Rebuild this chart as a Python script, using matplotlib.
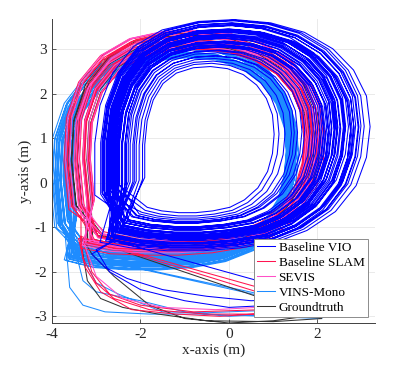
import numpy as np
import matplotlib.pyplot as plt

plt.rcParams['font.family'] = ['Liberation Serif', 'DejaVu Serif']
plt.rcParams['font.size'] = 11
plt.rcParams['axes.unicode_minus'] = False

series_names = ['Baseline VIO', 'Baseline SLAM', 'SEVIS', 'VINS-Mono', 'Groundtruth']
series_colors = ['#0000ff', '#ff1450', '#ff50c8', '#1e8cff', '#333333']

# base loops (m)
ref_loop_x = [-3.1, -2.5, -1.8, -1.1, -0.4, 0.3, 0.85, 1.35, 1.7, 1.87, 1.92, 1.85,
              1.62, 1.22, 0.65, 0.0, -0.7, -1.4, -2.1, -2.7, -3.15, -3.4, -3.45, -3.35]
ref_loop_y = [-1.3, -1.42, -1.45, -1.45, -1.4, -1.28, -1.05, -0.65, -0.15, 0.4, 1.0, 1.6,
              2.15, 2.6, 2.95, 3.15, 3.22, 3.2, 3.05, 2.7, 2.15, 1.4, 0.5, -0.5]
vio_loop_x = [-2.6, -2.0, -1.3, -0.6, 0.1, 0.8, 1.4, 1.95, 2.35, 2.55, 2.62, 2.55,
              2.3, 1.9, 1.35, 0.7, 0.0, -0.7, -1.4, -1.95, -2.35, -2.6, -2.7, -2.7]
vio_loop_y = [-1.3, -1.42, -1.48, -1.48, -1.42, -1.3, -1.05, -0.65, -0.1, 0.5, 1.15, 1.8,
              2.35, 2.8, 3.15, 3.35, 3.42, 3.38, 3.2, 2.85, 2.3, 1.6, 0.8, -0.3]
vins_loop_x = [-3.5, -2.9, -2.2, -1.5, -0.8, -0.1, 0.5, 0.95, 1.25, 1.4, 1.45, 1.4,
               1.2, 0.85, 0.35, -0.3, -1.0, -1.7, -2.4, -3.0, -3.5, -3.75, -3.8, -3.7]
vins_loop_y = [-1.6, -1.75, -1.8, -1.8, -1.75, -1.62, -1.38, -1.0, -0.5, 0.1, 0.7, 1.3,
               1.9, 2.4, 2.78, 3.0, 3.05, 2.98, 2.78, 2.4, 1.75, 1.0, 0.1, -0.9]

# per-lap variation: scale x / scale y / shift x / shift y
vio_sx = [1.00, 0.95, 1.05, 0.90, 1.10, 0.85, 0.98, 1.03, 0.80, 0.93, 1.07, 0.88, 0.97, 0.75, 1.12, 0.91,
          1.01, 0.86, 0.96, 0.70, 1.04, 0.94, 0.83, 0.99, 1.08, 0.62, 0.89, 1.02, 0.92, 1.17, 0.78, 0.87,
          0.66, 1.06, 0.95, 0.58, 0.84, 1.00, 0.73, 1.09, 0.90, 0.81, 0.97, 0.68, 1.04, 0.88, 0.55, 0.93]
vio_sy = [0.97, 0.93, 1.00, 0.89, 1.04, 0.86, 0.95, 0.98, 0.83, 0.92, 1.01, 0.88, 0.94, 0.79, 1.05, 0.90,
          0.98, 0.85, 0.94, 0.76, 0.99, 0.94, 0.84, 0.97, 1.02, 0.72, 0.88, 0.96, 0.93, 1.06, 0.81, 0.86,
          0.74, 1.02, 0.92, 0.70, 0.85, 1.00, 0.78, 1.03, 0.90, 0.83, 0.96, 0.76, 0.98, 0.89, 0.67, 0.93]
vio_dx = [0.00, -0.05, 0.07, -0.10, 0.10, -0.12, 0.02, 0.05, -0.18, -0.04, 0.06, -0.12, -0.01, -0.24, 0.12, -0.06,
          -0.02, -0.10, -0.05, -0.27, 0.06, -0.05, -0.16, 0.01, 0.09, -0.34, -0.08, 0.03, -0.08, 0.12, -0.20, -0.13,
          -0.30, 0.05, -0.03, -0.37, -0.13, 0.02, -0.25, 0.08, -0.07, -0.15, -0.03, -0.29, 0.03, -0.09, -0.40, -0.06]
vio_dy = [0.07, 0.05, 0.11, 0.03, 0.12, 0.08, 0.10, 0.02, 0.05, 0.09, 0.14, 0.01, 0.07, 0.06, 0.11, 0.10,
          0.08, 0.00, 0.11, 0.02, 0.05, 0.13, 0.07, 0.11, 0.09, 0.00, 0.06, 0.12, 0.08, 0.10, 0.03, 0.09,
          0.01, 0.07, 0.10, 0.00, 0.05, 0.12, 0.04, 0.10, 0.07, 0.08, 0.12, 0.02, 0.06, 0.10, 0.00, 0.05]

vins_sx = [1.00, 0.97, 1.03, 0.94, 1.05, 0.98, 0.92, 1.02, 0.96, 1.06, 0.95, 0.99, 0.93, 1.03, 0.97,
           1.04, 0.94, 1.01, 0.96, 1.00, 0.93, 1.07, 0.97, 0.92, 1.04, 0.98, 0.95, 1.02, 0.96, 0.99]
vins_sy = [1.00, 0.97, 1.03, 0.94, 1.02, 0.95, 0.91, 1.05, 0.99, 1.04, 0.92, 1.01, 0.90, 0.98, 1.02,
           1.06, 0.96, 0.97, 0.93, 1.04, 0.91, 1.05, 0.98, 0.90, 1.01, 0.96, 0.94, 1.03, 0.97, 1.00]
vins_dx = [0.00, 0.03, -0.03, 0.05, -0.05, 0.01, 0.06, -0.02, 0.03, -0.04, 0.00, 0.02, 0.07, -0.01, 0.04,
           -0.03, 0.05, 0.00, 0.02, -0.02, 0.05, -0.06, 0.01, 0.06, -0.04, 0.02, 0.03, -0.01, 0.01, -0.02]
vins_dy = [0.00, 0.02, -0.04, 0.03, 0.02, -0.05, 0.05, 0.04, -0.02, -0.06, 0.00, 0.06, 0.02, -0.08, 0.03,
           0.02, -0.03, -0.04, 0.04, 0.05, 0.01, -0.02, 0.03, 0.00, -0.05, 0.06, -0.01, 0.02, 0.04, -0.03]

slam_sx = [1.00, 0.95, 1.05, 0.91, 1.08, 0.97, 0.93, 1.03, 0.90, 1.06, 0.98, 1.01, 0.94, 0.99, 1.10, 0.92]
slam_sy = [1.00, 0.96, 1.04, 0.93, 1.06, 0.97, 0.95, 1.05, 0.91, 1.02, 1.01, 0.98, 0.94, 1.03, 1.08, 0.92]
slam_dx = [0.00, 0.03, -0.03, 0.05, 0.00, 0.06, -0.02, 0.04, 0.05, -0.04, 0.02, 0.05, 0.03, -0.02, -0.01, 0.06]
slam_dy = [0.00, 0.02, 0.04, -0.03, 0.05, 0.03, -0.04, 0.06, 0.00, 0.02, 0.04, -0.02, 0.03, 0.05, 0.01, -0.04]

sevis_sx = [1.01, 0.96, 1.05, 0.93, 1.02, 0.99, 0.91, 1.08]
sevis_sy = [1.01, 0.97, 1.06, 0.95, 1.00, 1.03, 0.93, 1.07]
sevis_dx = [0.02, 0.04, -0.02, 0.06, 0.00, 0.03, 0.07, -0.03]
sevis_dy = [0.03, 0.00, 0.06, 0.03, -0.03, 0.05, 0.00, 0.04]

gt_sx = [1.00, 0.96, 1.03, 0.93, 0.99, 1.05, 0.95, 1.01, 0.92, 1.06]
gt_sy = [0.99, 0.96, 1.03, 0.94, 1.01, 0.98, 0.97, 1.04, 0.93, 1.02]
gt_dx = [0.02, 0.04, -0.02, 0.05, 0.00, 0.02, 0.04, 0.01, 0.06, -0.03]
gt_dy = [0.01, 0.03, 0.02, 0.00, 0.04, -0.02, 0.03, 0.05, -0.03, 0.02]

# start segments along the bottom of the room
vio_tails = [
    ([2.1, 1.0, 0.0, -1.0, -2.0, -2.7, -3.0, -2.6], [-2.7, -2.75, -2.8, -2.65, -2.4, -2.0, -1.5, -1.3]),
    ([2.1, 0.5, -0.5, -1.5, -2.3, -2.8, -3.1, -2.6], [-2.6, -2.65, -2.55, -2.4, -2.15, -1.9, -1.6, -1.3]),
]
slam_tails = [
    ([2.1, 1.0, -0.5, -1.8, -2.6, -3.0, -3.3, -3.35, -3.1], [-2.85, -2.95, -2.95, -2.85, -2.6, -2.25, -1.7, -1.2, -1.3]),
    ([2.1, 0.8, -0.8, -2.0, -2.7, -3.1, -3.3, -3.1], [-2.75, -2.85, -2.9, -2.75, -2.5, -2.0, -1.3, -1.3]),
    ([2.1, 1.0, -0.2, -1.2, -2.2, -2.9, -3.25, -3.4, -3.1], [-2.9, -2.92, -3.0, -2.95, -2.85, -2.45, -1.9, -1.25, -1.3]),
]
sevis_tails = [
    ([2.1, 1.0, -0.3, -1.5, -2.4, -3.0, -3.3, -3.1], [-2.75, -2.78, -2.85, -2.8, -2.6, -2.1, -1.3, -1.3]),
]
vins_tails = [
    ([2.1, 0.8, -0.6, -1.8, -2.8, -3.3, -3.6, -3.7, -3.5], [-3.05, -3.0, -2.95, -2.95, -2.9, -2.75, -2.35, -1.2, -1.6]),
    ([2.1, 1.0, 0.0, -1.0, -2.0, -3.0, -3.3, -3.5, -3.5], [-2.8, -2.95, -3.0, -2.9, -2.65, -2.45, -2.2, -1.4, -1.6]),
    ([2.1, 0.5, -0.5, -1.5, -2.5, -3.0, -3.4, -3.5], [-2.85, -2.88, -2.92, -2.9, -2.5, -2.25, -1.5, -1.6]),
]
gt_tails = [
    ([2.1, 1.0, 0.0, -1.0, -1.8, -2.6, -3.1, -3.3, -3.1], [-2.95, -3.1, -3.15, -3.05, -2.75, -2.1, -1.6, -1.25, -1.3]),
    ([2.1, 1.0, -0.5, -1.6, -2.4, -2.9, -3.2, -3.35, -3.1], [-3.05, -3.12, -3.1, -2.95, -2.8, -2.6, -2.2, -1.3, -1.3]),
]


def build_track(loop_x, loop_y, sx_list, sy_list, dx_list, dy_list, tails):
    lx = np.array(loop_x)
    ly = np.array(loop_y)
    cx = (lx.min() + lx.max()) / 2
    cy = (ly.min() + ly.max()) / 2
    xs, ys = [], []
    for tx, ty in tails:
        xs += tx
        ys += ty
    for sx, sy, dx, dy in zip(sx_list, sy_list, dx_list, dy_list):
        xs += list(cx + sx * (lx - cx) + dx)
        ys += list(cy + sy * (ly - cy) + dy)
    return xs, ys


tracks = {
    'VINS-Mono': build_track(vins_loop_x, vins_loop_y, vins_sx, vins_sy, vins_dx, vins_dy, vins_tails),
    'Groundtruth': build_track(ref_loop_x, ref_loop_y, gt_sx, gt_sy, gt_dx, gt_dy, gt_tails),
    'Baseline SLAM': build_track(ref_loop_x, ref_loop_y, slam_sx, slam_sy, slam_dx, slam_dy, slam_tails),
    'SEVIS': build_track(ref_loop_x, ref_loop_y, sevis_sx, sevis_sy, sevis_dx, sevis_dy, sevis_tails),
    'Baseline VIO': build_track(vio_loop_x, vio_loop_y, vio_sx, vio_sy, vio_dx, vio_dy, vio_tails),
}

fig = plt.figure(figsize=(3.95, 3.76), dpi=100)
ax = fig.add_axes([0.1316, 0.141, 0.8174, 0.8085])

handles = {}
for name in ['VINS-Mono', 'Groundtruth', 'Baseline SLAM', 'SEVIS', 'Baseline VIO']:
    color = series_colors[series_names.index(name)]
    x, y = tracks[name]
    h, = ax.plot(x, y, color=color, lw=0.75)
    handles[name] = h

ax.set_xlim(-4, 3.3)
ax.set_ylim(-3.15, 3.68)
ax.set_xticks([-4, -2, 0, 2])
ax.set_yticks([-3, -2, -1, 0, 1, 2, 3])
ax.grid(True, color='#e6e6e6', lw=0.6)
ax.set_axisbelow(True)
for s in ['top', 'right']:
    ax.spines[s].set_visible(False)
for s in ['left', 'bottom']:
    ax.spines[s].set_color('#404040')
    ax.spines[s].set_linewidth(0.7)
ax.tick_params(direction='in', length=3, width=0.6, color='#404040', labelcolor='#262626')
ax.set_xlabel('x-axis (m)', color='#262626', labelpad=2)
ax.set_ylabel('y-axis (m)', color='#262626', labelpad=2)

leg = ax.legend([handles[n] for n in series_names], series_names,
                loc='lower right', bbox_to_anchor=(0.978, 0.02),
                fontsize=9.5, handlelength=1.3, handletextpad=0.3,
                labelspacing=0.2, borderpad=0.25, borderaxespad=0,
                fancybox=False, framealpha=1, edgecolor='#8c8c8c')
leg.get_frame().set_linewidth(0.7)

fig.savefig('out.png', dpi=100)
